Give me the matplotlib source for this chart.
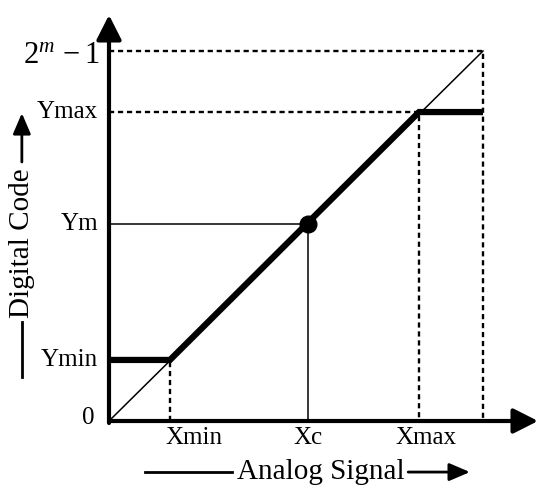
import matplotlib.pyplot as plt

# Níveis da característica (escala completa = 1)
x_levels = [0.163, 0.532, 0.829]      # Xmin, Xc, Xmax
y_levels = [0.165, 0.532, 0.835]      # Ymin, Ym, Ymax
x_labels = ["Xmin", "Xc", "Xmax"]
y_labels = ["Ymin", "Ym", "Ymax"]
full_scale = 1.0

# Curva de transferência (patamar - rampa - patamar)
curve_x = [0.0, x_levels[0], x_levels[2], full_scale]
curve_y = [y_levels[0], y_levels[0], y_levels[2], y_levels[2]]

plt.rcParams['font.family'] = ['Liberation Serif', 'DejaVu Serif']
plt.rcParams['mathtext.fontset'] = 'custom'
plt.rcParams['mathtext.rm'] = 'Liberation Serif'
plt.rcParams['mathtext.it'] = 'Liberation Serif:italic'

fig = plt.figure(figsize=(5.5, 4.92), dpi=100)
ax = fig.add_axes([0, 0, 1, 1])
ax.set_xlim(-109 / 374, 441 / 374)
ax.set_ylim(-71 / 370, 421 / 370)
ax.axis('off')

xmin, xc, xmax = x_levels
ymin, ym, ymax = y_levels

# linhas auxiliares tracejadas
dash = dict(color='black', lw=1.7, ls=(0, (2.2, 1.6)))
ax.plot([0, full_scale, full_scale], [full_scale, full_scale, 0], **dash)
ax.plot([0, xmax, xmax], [ymax, ymax, 0], **dash)
ax.plot([xmin, xmin], [0, ymin], **dash)

# linhas auxiliares finas do ponto central
ax.plot([0, xc, xc], [ym, ym, 0], color='black', lw=1.1)

# diagonal ideal
ax.plot([0, full_scale], [0, full_scale], color='black', lw=1.1)

# característica real
ax.plot(curve_x, curve_y, color='black', lw=4.5, solid_capstyle='butt',
        solid_joinstyle='miter')
ax.plot([xc], [ym], 'o', color='black', markersize=12)

# eixos com setas
arrow = dict(arrowstyle='-|>,head_length=0.75,head_width=0.38', lw=3,
             color='black', shrinkA=0, shrinkB=0, mutation_scale=20)
ax.annotate('', xy=(0, 406 / 370), xytext=(0, -2 / 370), arrowprops=arrow)
ax.annotate('', xy=(429 / 374, 0), xytext=(0, 0), arrowprops=arrow)

# rótulos dos eixos
fs = 18
ax.text(-21 / 374, 0.008, "0", fontsize=fs, ha='center', va='center')
for y, lab in zip(y_levels, y_labels):
    ax.text(-11 / 374, y, lab, fontsize=fs, ha='right', va='center')
ax.text(-9 / 374, full_scale - 0.012, r"$2^{m}\,-1$", fontsize=22,
        ha='right', va='center')

x_offsets = [0.064, 0.0, 0.019]
for x, off, lab in zip(x_levels, x_offsets, x_labels):
    ax.text(x + off, -0.046, lab, fontsize=fs, ha='center', va='center')

# título do eixo x com setas
ax.text(0.567, -0.138, "Analog Signal", fontsize=21, ha='center', va='center')
ax.plot([0.096, 0.329], [-0.138, -0.138], color='black', lw=2)
arrow2 = dict(arrowstyle='-|>,head_length=0.7,head_width=0.3', lw=2,
              color='black', shrinkA=0, shrinkB=0, mutation_scale=18)
ax.annotate('', xy=(0.965, -0.138), xytext=(0.80, -0.138), arrowprops=arrow2)

# título do eixo y com setas
ax.text(-0.233, 0.481, "Digital Code", fontsize=21, ha='center', va='center',
        rotation=90)
ax.plot([-0.233, -0.233], [0.119, 0.268], color='black', lw=2)
ax.annotate('', xy=(-0.233, 0.832), xytext=(-0.233, 0.70), arrowprops=arrow2)

fig.savefig('out.png', dpi=100)
